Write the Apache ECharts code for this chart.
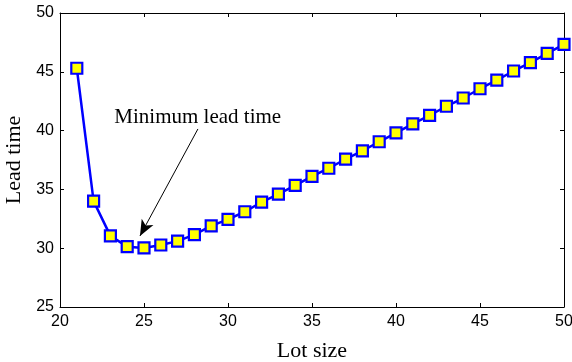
<!DOCTYPE html>
<html>
<head>
<meta charset="utf-8">
<script src="https://cdn.jsdelivr.net/npm/echarts@6/dist/echarts.min.js"></script>
<style>html,body{margin:0;padding:0;background:#fff}#c{width:572px;height:362px}</style>
</head>
<body>
<div id="c"></div>
<script>
const lotSizes = [21,22,23,24,25,26,27,28,29,30,31,32,33,34,35,36,37,38,39,40,41,42,43,44,45,46,47,48,49,50];
const leadTimes = [45.3,34.0,31.05,30.13,30.02,30.27,30.6,31.15,31.9,32.45,33.1,33.92,34.6,35.35,36.1,36.8,37.58,38.28,39.05,39.8,40.58,41.3,42.07,42.77,43.56,44.3,45.07,45.78,46.57,47.34];
const xTicks = [20,25,30,35,40,45,50];
const yTicks = [25,30,35,40,45,50];
const annotationText = 'Minimum lead time';
const arrowFrom = [28.21, 40.14];
const arrowTo = [24.76, 31.04];
const textAt = [28.2, 41.1];

const chart = echarts.init(document.getElementById('c'), null, {renderer: 'canvas'});
const axisCommon = {
  type: 'value',
  axisLine: {show: true, onZero: false, lineStyle: {color: '#000', width: 1}},
  axisTick: {show: true, inside: true, length: 4, lineStyle: {color: '#000'}},
  splitLine: {show: false}
};
chart.setOption({
  animation: false,
  grid: {left: 60, right: 8, top: 13, bottom: 55, containLabel: false, outerBoundsMode: 'none'},
  xAxis: [
    Object.assign({}, axisCommon, {
      min: xTicks[0], max: xTicks[xTicks.length-1], interval: 5, position: 'bottom',
      name: 'Lot size', nameLocation: 'middle', nameGap: 33,
      nameTextStyle: {fontFamily: 'Liberation Serif', fontSize: 22, color: '#000'},
      axisLabel: {fontFamily: 'Liberation Sans', fontSize: 16, color: '#000', margin: 7}
    }),
    Object.assign({}, axisCommon, {
      min: xTicks[0], max: xTicks[xTicks.length-1], interval: 5, position: 'top',
      axisLabel: {show: false}
    })
  ],
  yAxis: [
    Object.assign({}, axisCommon, {
      min: yTicks[0], max: yTicks[yTicks.length-1], interval: 5, position: 'left',
      name: 'Lead time', nameLocation: 'middle', nameGap: 32, nameRotate: 90,
      nameTextStyle: {fontFamily: 'Liberation Serif', fontSize: 22, color: '#000'},
      axisLabel: {fontFamily: 'Liberation Sans', fontSize: 16, color: '#000', margin: 6}
    }),
    Object.assign({}, axisCommon, {
      min: yTicks[0], max: yTicks[yTicks.length-1], interval: 5, position: 'right',
      axisLabel: {show: false}
    })
  ],
  series: [{
    type: 'line',
    data: lotSizes.map((x, i) => [x, leadTimes[i]]),
    symbol: 'rect',
    symbolSize: 11,
    lineStyle: {color: '#0000ff', width: 2.5},
    itemStyle: {color: '#ffff00', borderColor: '#0000ff', borderWidth: 2.2},
    z: 3,
    markLine: {
      silent: true,
      symbol: ['none', 'arrow'],
      symbolSize: [10, 16],
      lineStyle: {color: '#000', width: 1, type: 'solid'},
      label: {show: false},
      data: [[{coord: arrowFrom}, {coord: arrowTo}]]
    },
    markPoint: {
      silent: true,
      symbol: 'circle',
      symbolSize: 0,
      label: {show: true, position: 'inside', formatter: annotationText,
        fontFamily: 'Liberation Serif', fontSize: 21, color: '#000'},
      data: [{coord: textAt}]
    }
  }]
});
</script>
</body>
</html>
